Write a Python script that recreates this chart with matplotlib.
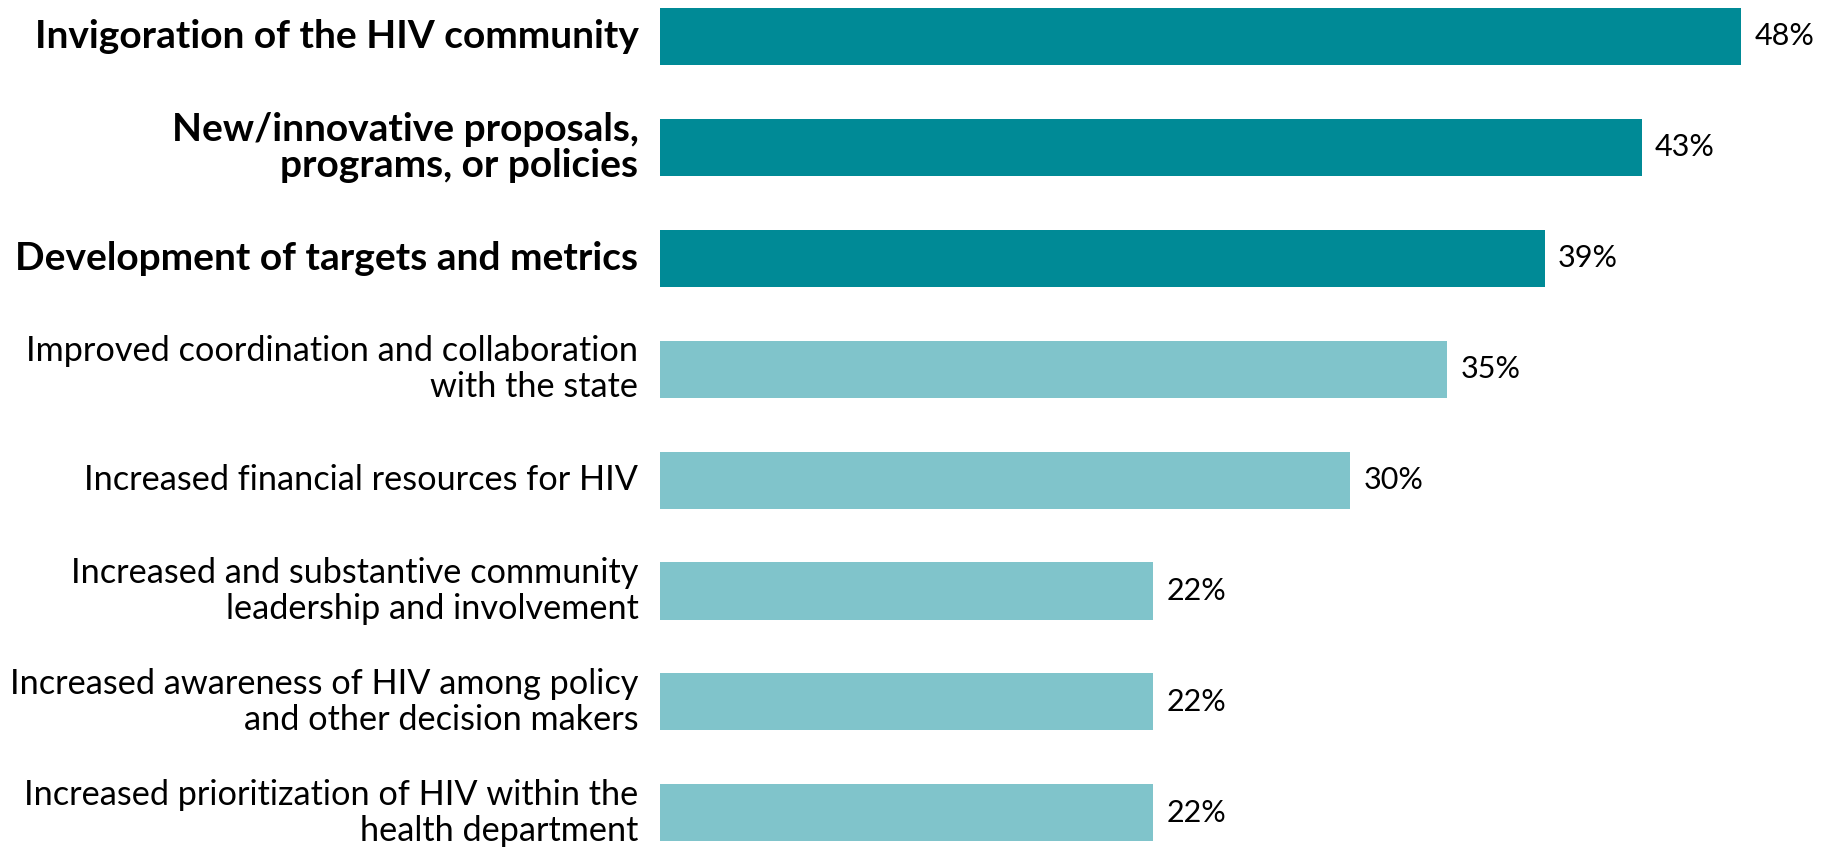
import matplotlib
matplotlib.use("Agg")
import matplotlib.pyplot as plt
import numpy as np

labels = [
    "Invigoration of the HIV community",
    "New/innovative proposals,\nprograms, or policies",
    "Development of targets and metrics",
    "Improved coordination and collaboration\nwith the state",
    "Increased financial resources for HIV",
    "Increased and substantive community\nleadership and involvement",
    "Increased awareness of HIV among policy\nand other decision makers",
    "Increased prioritization of HIV within the\nhealth department",
]
# bar lengths as drawn (unrounded), and the rounded labels shown
values = [47.9, 43.5, 39.2, 34.9, 30.6, 21.85, 21.85, 21.85]
value_labels = ["48%", "43%", "39%", "35%", "30%", "22%", "22%", "22%"]
highlight = [True, True, True, False, False, False, False, False]

dark = "#008a96"
light = "#80c4cb"

plt.rcParams["font.family"] = ["Lato", "DejaVu Sans"]

fig = plt.figure(figsize=(18.21, 8.48), dpi=100)
ax = fig.add_axes([0.3624, 0, 0.6196, 1])

y = np.arange(len(values))
colors = [dark if h else light for h in highlight]
ax.barh(y, values, height=0.515, color=colors)

for yi, v, vl, lab, h in zip(y, values, value_labels, labels, highlight):
    ax.text(v + 0.6, yi, vl, va="center", ha="left", fontsize=22, color="black")
    if h:
        ax.text(-0.95, yi, lab, va="center", ha="right", fontsize=28,
                fontweight="bold", linespacing=1.05)
    else:
        ax.text(-0.95, yi, lab, va="center", ha="right", fontsize=24.7,
                linespacing=1.15)

ax.set_xlim(0, 50)
ax.set_ylim(7.317, -0.329)
ax.axis("off")

fig.savefig("out.png", dpi=100)
